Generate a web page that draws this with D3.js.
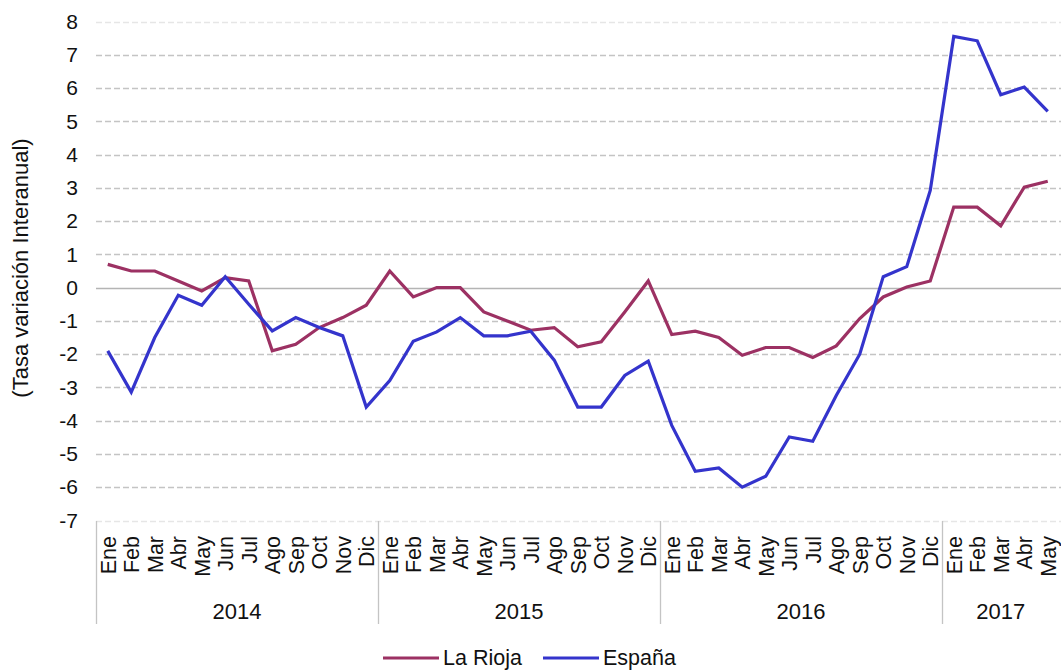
<!DOCTYPE html>
<html>
<head>
<meta charset="utf-8">
<script src="https://cdn.jsdelivr.net/npm/d3@7"></script>
<style>
  html, body { margin: 0; padding: 0; background: #fff; }
  svg { display: block; }
  text { font-family: "Liberation Sans", Arial, Helvetica, sans-serif; fill: #111; }
</style>
</head>
<body>
<svg id="chart" width="1061" height="672"></svg>
<script>
const years = ["2014", "2015", "2016", "2017"];
const monthNames = ["Ene","Feb","Mar","Abr","May","Jun","Jul","Ago","Sep","Oct","Nov","Dic"];
const monthsPerYear = [12, 12, 12, 5];
const seriesNames = ["La Rioja", "España"];
const seriesColors = ["#9c3163", "#3434cc"];
const yTicks = [8, 7, 6, 5, 4, 3, 2, 1, 0, -1, -2, -3, -4, -5, -6, -7];
const yTitle = "(Tasa variación Interanual)";

const laRioja = [
  0.7, 0.5, 0.5, 0.2, -0.1, 0.3, 0.2, -1.9, -1.7, -1.2, -0.9, -0.53,
  0.5, -0.28, 0.0, 0.0, -0.73, -1.0, -1.28, -1.2, -1.78, -1.63, -0.73, 0.2,
  -1.41, -1.31, -1.5, -2.03, -1.8, -1.8, -2.1, -1.75, -0.93, -0.28, 0.02, 0.2,
  2.42, 2.42, 1.86, 3.02, 3.2
];
const espana = [
  -1.9, -3.14, -1.5, -0.23, -0.53, 0.33, -0.5, -1.3, -0.9, -1.2, -1.45, -3.59,
  -2.79, -1.61, -1.33, -0.9, -1.45, -1.45, -1.31, -2.18, -3.59, -3.59, -2.64, -2.21,
  -4.14, -5.52, -5.42, -6.0, -5.67, -4.49, -4.62, -3.24, -2.0, 0.33, 0.63, 2.92,
  7.55, 7.42, 5.8, 6.03, 5.3
];

// categories built from years/months
const categories = [];
years.forEach((y, yi) => {
  for (let m = 0; m < monthsPerYear[yi]; m++) categories.push({ year: y, month: monthNames[m] });
});

const svg = d3.select("#chart");

const x = d3.scaleBand().domain(d3.range(categories.length)).range([96, 1059.5]).paddingInner(0).paddingOuter(0);
const y = d3.scaleLinear().domain([-7, 8]).range([520.5, 21.5]);
const cx = i => x(i) + x.bandwidth() / 2;

// gridlines
const grid = svg.append("g");
yTicks.forEach(t => {
  const yy = Math.round(y(t)) + 0.5;
  if (t === 0) {
    grid.append("line").attr("x1", 96).attr("x2", 1061).attr("y1", yy).attr("y2", yy)
      .attr("stroke", "#b4b4b4").attr("stroke-width", 1.5);
  } else {
    grid.append("line").attr("x1", 96).attr("x2", 1061).attr("y1", yy).attr("y2", yy)
      .attr("stroke", (t === 8 || t === -7) ? "#e6e6e6" : "#c4c4c4")
      .attr("stroke-width", 1.3)
      .attr("stroke-dasharray", "6,3");
  }
});

// y tick labels
const yAxis = d3.axisLeft(y).tickValues(yTicks).tickSize(0).tickPadding(0).tickFormat(d => String(d));
const yg = svg.append("g").attr("transform", "translate(78,0)").call(yAxis);
yg.select(".domain").remove();
yg.selectAll("text").style("font-size", "21px").attr("fill", "#111")
  .attr("font-family", "Liberation Sans, Arial, sans-serif");

// y title
svg.append("text")
  .attr("transform", "translate(28,268) rotate(-90)")
  .attr("text-anchor", "middle")
  .style("font-size", "22px")
  .text(yTitle);

// x category labels (months)
const xg = svg.append("g");
categories.forEach((c, i) => {
  xg.append("text")
    .attr("transform", `translate(${cx(i)},536) rotate(-90)`)
    .attr("text-anchor", "end")
    .attr("dy", "0.36em")
    .style("font-size", "21.5px")
    .text(c.month);
});

// year separators and labels
let start = 0;
const sepX = [x(0)];
years.forEach((yr, yi) => {
  const n = monthsPerYear[yi];
  const x0 = x(start);
  const x1 = start + n < categories.length ? x(start + n) : x.range()[1];
  if (yi > 0) sepX.push(x0);
  xg.append("text")
    .attr("x", (x0 + x1) / 2)
    .attr("y", 619)
    .attr("text-anchor", "middle")
    .style("font-size", "22px")
    .text(yr);
  start += n;
});
sepX.forEach(sx => {
  xg.append("line").attr("x1", Math.round(sx) + 0.5).attr("x2", Math.round(sx) + 0.5)
    .attr("y1", 521).attr("y2", 624).attr("stroke", "#c4c4c4").attr("stroke-width", 1.3);
});

// lines
const line = d3.line().x((d, i) => cx(i)).y(d => y(d));
[laRioja, espana].forEach((s, k) => {
  svg.append("path").datum(s)
    .attr("d", line)
    .attr("fill", "none")
    .attr("stroke", seriesColors[k])
    .attr("stroke-width", 3.2)
    .attr("stroke-linejoin", "miter");
});

// legend
const legendX = [383, 543];
const lg = svg.append("g");
seriesNames.forEach((nm, k) => {
  lg.append("line").attr("x1", legendX[k]).attr("x2", legendX[k] + 56)
    .attr("y1", 658).attr("y2", 658)
    .attr("stroke", seriesColors[k]).attr("stroke-width", 3.2);
  lg.append("text").attr("x", legendX[k] + 60).attr("y", 665)
    .style("font-size", "21.5px").text(nm);
});
</script>
</body>
</html>
